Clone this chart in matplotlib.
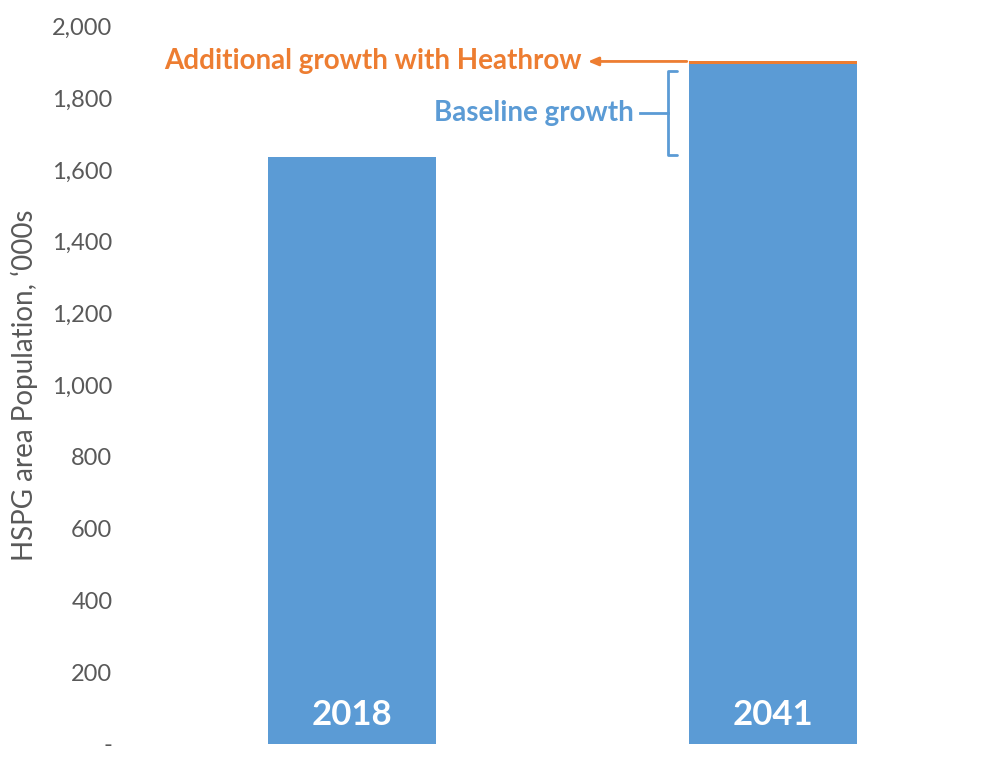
import matplotlib
matplotlib.use("Agg")
import matplotlib.pyplot as plt
from matplotlib.ticker import FuncFormatter

# Population data ('000s)
years = ["2018", "2041"]
baseline = [1637, 1895]
heathrow_extra = [0, 8]
y_ticks = [0, 200, 400, 600, 800, 1000, 1200, 1400, 1600, 1800, 2000]

BLUE = "#5B9BD5"
ORANGE = "#ED7D31"
GREY = "#595959"

plt.rcParams["font.family"] = ["Lato", "DejaVu Sans"]

fig = plt.figure(figsize=(9.94, 7.62), dpi=100)
ax = fig.add_axes([0.1425, 0.024, 0.847, 0.941])

x = list(range(len(years)))
width = 0.4
ax.bar(x, baseline, width=width, color=BLUE, zorder=2)
ax.bar(x, heathrow_extra, width=width, bottom=baseline, color=ORANGE, zorder=2)

ax.set_xlim(-0.5, 1.5)
ax.set_ylim(0, 2000)
ax.set_yticks(y_ticks)
ax.yaxis.set_major_formatter(FuncFormatter(lambda v, p: "-" if v == 0 else f"{int(v):,}"))
ax.tick_params(axis="y", length=0, pad=21, labelsize=17, labelcolor=GREY)
ax.set_xticks([])
for s in ax.spines.values():
    s.set_visible(False)

ax.set_ylabel("HSPG area Population, \u2018000s", fontsize=20, color=GREY, labelpad=10)

# Year labels inside the bars
for xi, yr in zip(x, years):
    ax.text(xi, 80, yr, ha="center", va="center", color="white",
            fontsize=25, fontweight="bold", zorder=3)

# Heathrow annotation with arrow
total_2041 = baseline[1] + heathrow_extra[1]
ax.annotate("", xy=(0.56, total_2041), xytext=(1 - width / 2 - 0.005, total_2041),
            arrowprops=dict(arrowstyle="-|>,head_length=0.6,head_width=0.25",
                            color=ORANGE, lw=2, shrinkA=0, shrinkB=0))
ax.text(0.545, total_2041, "Additional growth with Heathrow", ha="right", va="center",
        color=ORANGE, fontsize=20, fontweight="bold")

# Baseline growth bracket between 2018 and 2041 baseline levels
lo = baseline[0] + 5
hi = baseline[1] - 20
mid = (lo + hi) / 2
bx, tip = 0.75, 0.772
ax.plot([tip, bx, bx, tip], [hi, hi, lo, lo], color=BLUE, lw=2, solid_joinstyle="round",
        solid_capstyle="round")
ax.plot([0.685, bx], [mid, mid], color=BLUE, lw=2)
ax.text(0.668, mid, "Baseline growth", ha="right", va="center",
        color=BLUE, fontsize=20, fontweight="bold")

fig.savefig("out.png", dpi=100)
